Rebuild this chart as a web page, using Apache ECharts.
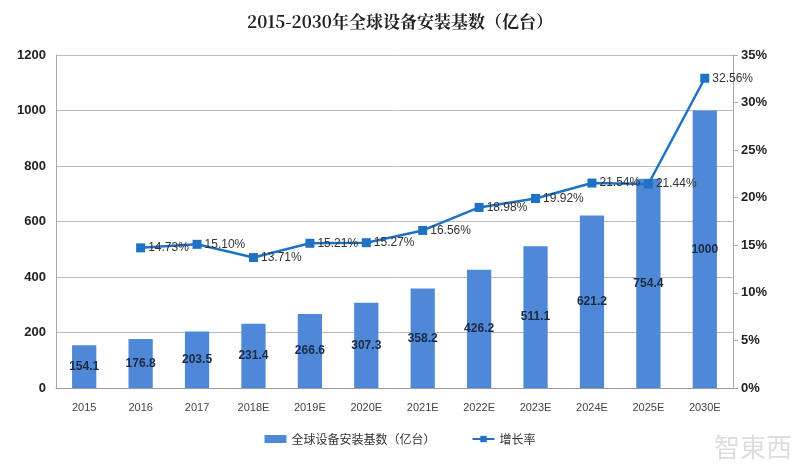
<!DOCTYPE html>
<html><head><meta charset="utf-8">
<script src="https://cdn.jsdelivr.net/npm/echarts@6/dist/echarts.min.js"></script>
<style>html,body{margin:0;padding:0;background:#fff}#c{width:800px;height:464px}</style>
</head><body><div id="c"></div>
<script>
var categories = ['2015','2016','2017','2018E','2019E','2020E','2021E','2022E','2023E','2024E','2025E','2030E'];
var installBase = [154.1,176.8,203.5,231.4,266.6,307.3,358.2,426.2,511.1,621.2,754.4,1000];
var growthRate = [null,14.73,15.10,13.71,15.21,15.27,16.56,18.98,19.92,21.54,21.44,32.56];
var growthLabels = [null,'14.73%','15.10%','13.71%','15.21%','15.27%','16.56%','18.98%','19.92%','21.54%','21.44%','32.56%'];
var barName = '全球设备安装基数（亿台）';
var lineName = '增长率';

var chart = echarts.init(document.getElementById('c'));
var font = '"Liberation Sans", "Noto Sans CJK SC", sans-serif';
chart.setOption({
  animation: false,
  textStyle: {fontFamily: font},
  title: {
    text: '2015-2030年全球设备安装基数（亿台）',
    left: 'center', top: 8,
    textStyle: {fontSize: 17, fontWeight: 'bold', color: '#222', fontFamily: '"Noto Serif CJK SC", "Noto Sans CJK SC", serif'}
  },
  grid: {left: 56, right: 67, top: 55, bottom: 76},
  legend: {
    bottom: 14, left: 'center', itemGap: 36, itemWidth: 22, itemHeight: 8,
    textStyle: {fontSize: 12, color: '#333', fontFamily: '"Noto Sans CJK SC", sans-serif'},
    data: [{name: barName, icon: 'rect'}, {name: lineName}]
  },
  xAxis: {
    type: 'category', data: categories,
    axisLine: {lineStyle: {color: '#999'}},
    axisTick: {show: false},
    axisLabel: {color: '#444', fontSize: 11, margin: 14}
  },
  yAxis: [{
    type: 'value', min: 0, max: 1200, interval: 200,
    axisLine: {show: true, lineStyle: {color: '#aaa'}},
    axisTick: {show: false},
    splitLine: {lineStyle: {color: '#bbb'}},
    axisLabel: {color: '#222', fontSize: 13, fontWeight: 'bold', margin: 10,
      formatter: function(v){ return String(v); }}
  }, {
    type: 'value', min: 0, max: 35, interval: 5,
    axisLine: {show: true, lineStyle: {color: '#aaa'}},
    axisTick: {show: true, inside: false, length: 5, lineStyle: {color: '#aaa'}},
    splitLine: {show: false},
    axisLabel: {color: '#222', fontSize: 13, fontWeight: 'bold', margin: 8, formatter: '{value}%'}
  }],
  series: [{
    name: barName, type: 'bar', data: installBase, barWidth: '43%',
    itemStyle: {color: '#4f88d6'},
    label: {show: true, position: 'inside', color: '#1a2a44', fontSize: 12, fontWeight: 'bold'}
  }, {
    name: lineName, type: 'line', yAxisIndex: 1, data: growthRate,
    symbol: 'rect', symbolSize: 9,
    lineStyle: {color: '#1f72c4', width: 2.5},
    itemStyle: {color: '#1f72c4'},
    label: {show: true, position: 'right', distance: 3, color: '#333', fontSize: 12,
      formatter: function(p){ return growthLabels[p.dataIndex]; }}
  }],
  graphic: [{
    type: 'text', right: 8, bottom: 4,
    style: {text: '智東西', fontSize: 26, fill: 'rgba(180,180,180,0.45)', fontFamily: '"Noto Sans CJK TC", sans-serif'}
  }]
});
</script></body></html>
